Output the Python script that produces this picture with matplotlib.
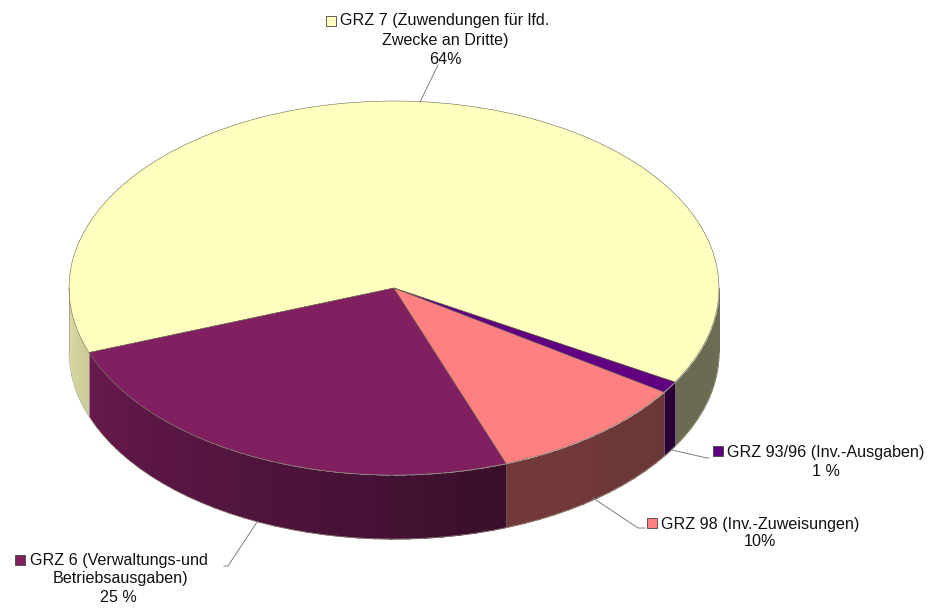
import numpy as np
import matplotlib
matplotlib.use("Agg")
import matplotlib.pyplot as plt
from matplotlib.colors import to_rgb

plt.rcParams['font.family'] = ['Liberation Sans', 'DejaVu Sans']

# values counter clockwise from the start angle
values = [64, 25, 10, 1]
colors = ['#FFFFC0', '#802060', '#FF8080', '#600080']
start_angle = 329.8

# how bright the rim is, by angle of the rim
shade_angles = [180, 200, 290, 330, 360]
shade_levels = [0.87, 0.80, 0.45, 0.42, 0.42]

# pie placement in pixels
cx, cy, rx, ry, depth = 394, 288, 325, 187, 64
W, H = 930, 609

fig = plt.figure(figsize=(W / 100, H / 100), dpi=100)
ax = fig.add_axes([0, 0, 1, 1])

# rim first, then the top of the pie on it
d = depth / ry
a0 = start_angle
for val, col in zip(values, colors):
    a1 = a0 + val * 3.6
    for lo, hi in [(a0, a1), (a0 - 360, a1 - 360)]:
        lo, hi = max(lo, 180), min(hi, 360)
        if hi <= lo:
            continue
        n = max(int((hi - lo) / 3), 1)
        edges = np.linspace(lo, hi, n + 1)
        for i, (e0, e1) in enumerate(zip(edges[:-1], edges[1:])):
            # each band runs a bit under the next one so no seams show
            e2 = e1 + 0.6 if i < n - 1 else e1
            t = np.radians(np.linspace(e0, e2, 8))
            k = np.interp((e0 + e1) / 2, shade_angles, shade_levels)
            c = np.array(to_rgb(col)) * k
            ax.fill_between(np.cos(t), np.sin(t) - d, np.sin(t), color=c, lw=0, zorder=1)
    a0 = a1

ax.pie(values, colors=colors, startangle=start_angle, radius=1, center=(0, 0),
       wedgeprops={'edgecolor': '#6b6b50', 'linewidth': 0.4, 'zorder': 2})
ax.set_aspect('auto')
ax.set_xlim(-cx / rx, (W - cx) / rx)
ax.set_ylim((cy - H) / ry, cy / ry)

# thin outline at the foot of the rim
t = np.radians(np.linspace(180, 360, 200))
ax.plot(np.cos(t), np.sin(t) - d, color='#9a9a80', lw=0.4, zorder=3)
ax.plot([-1, -1], [0, -d], color='#8a8a70', lw=0.5, zorder=3)
ax.plot([1, 1], [0, -d], color='#55553f', lw=0.5, zorder=3)

# labels and leader lines in pixel coordinates
ov = fig.add_axes([0, 0, 1, 1])
ov.set_xlim(0, W)
ov.set_ylim(H, 0)
ov.axis('off')

leaders = [
    ([420, 438], [102, 65]),
    ([257, 228, 224], [522, 566, 566]),
    ([593, 638, 645], [498, 528, 528]),
    ([672, 707, 709], [450, 458, 458]),
]
for xs, ys in leaders:
    ov.plot(xs, ys, color='#808080', lw=0.7, zorder=4)

keys = [(330.5, 21, colors[0]), (19.5, 560, colors[1]), (651.5, 523, colors[2]), (717.5, 451, colors[3])]
for kx, ky, col in keys:
    ov.scatter([kx], [ky], marker='s', s=42, color=col, edgecolor='#444444', linewidth=0.6, zorder=5)

lines_left = [
    (340, 21, 'GRZ 7 (Zuwendungen für lfd.'),
    (30, 560, 'GRZ 6 (Verwaltungs-und'),
    (661, 524, 'GRZ 98 (Inv.-Zuweisungen)'),
    (727, 452, 'GRZ 93/96 (Inv.-Ausgaben)'),
]
lines_center = [
    (445, 41, 'Zwecke an Dritte)'),
    (445, 59, '64%'),
    (120, 579, 'Betriebsausgaben)'),
    (118, 597, '25 %'),
    (760, 542, '10%'),
    (826, 472, '1 %'),
]
for x, y, s in lines_left:
    ov.text(x, y, s, fontsize=11.65, color='#111111', ha='left', va='center', zorder=6)
for x, y, s in lines_center:
    ov.text(x, y, s, fontsize=11.65, color='#111111', ha='center', va='center', zorder=6)

fig.savefig('out.png', dpi=100, facecolor='white')
